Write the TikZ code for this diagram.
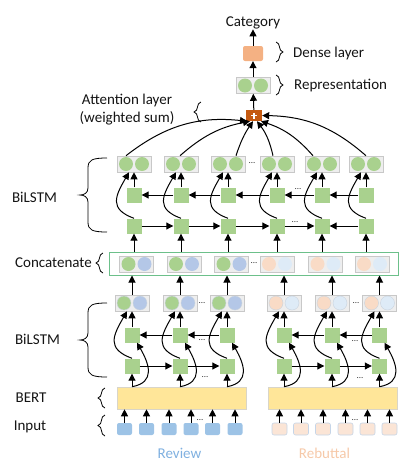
\documentclass[tikz,border=0pt]{standalone}
\usepackage{fontspec}
\setmainfont{Carlito}
\usetikzlibrary{arrows.meta,decorations.pathreplacing}

\definecolor{cellgreen}{HTML}{A9D18E}
\definecolor{dotblue}{HTML}{B4C7E7}
\definecolor{dotpeach}{HTML}{F9DBC6}
\definecolor{dotice}{HTML}{DEEBF7}
\definecolor{dotline}{HTML}{C9D3DE}
\definecolor{boxgray}{HTML}{EEEEEE}
\definecolor{boxline}{HTML}{C8C8C8}
\definecolor{densecol}{HTML}{F4B183}
\definecolor{attcol}{HTML}{C55A11}
\definecolor{bertcol}{HTML}{FFE699}
\definecolor{bertline}{HTML}{D9D5C8}
\definecolor{tokblue}{HTML}{9DC3E6}
\definecolor{tokpeach}{HTML}{FBE5D6}
\definecolor{tokline}{HTML}{C5D5E8}
\definecolor{concatgreen}{HTML}{6CC08A}
\definecolor{reviewcol}{HTML}{7FB0E0}
\definecolor{rebuttalcol}{HTML}{F6C9A9}

\tikzset{
  arr/.style={-{Triangle[length=7pt,width=7pt]}, line width=1pt},
  cell/.style={rectangle, fill=cellgreen, minimum size=15pt, inner sep=0pt},
  pairbox/.style={rectangle, fill=boxgray, draw=boxline, line width=0.6pt, minimum width=34pt, minimum height=16pt, inner sep=0pt},
  disc/.style={circle, minimum size=14pt, inner sep=0pt},
  token/.style={rectangle, rounded corners=2pt, minimum width=15pt, minimum height=12pt, inner sep=0pt},
  txt/.style={font=\fontsize{15}{18}\selectfont, text=black!92, inner sep=0pt},
  ellip/.style={font=\fontsize{9}{9}\selectfont, text=black!80, inner sep=0pt},
  lbrace/.style={decorate, decoration={brace, amplitude=7pt}, line width=0.8pt},
}

% big left brace: tip x, top y, bottom y
\newcommand{\sidebrace}[3]{%
  \draw[line width=0.8pt] ({#1+27},-#2) .. controls ({#1+12},-#2) and ({#1+8},{-#2-2}) .. ({#1+8},{-#2-10})
    -- ({#1+8},{-(#2+#3)/2+7}) .. controls ({#1+8},{-(#2+#3)/2+2}) and ({#1+4},{-(#2+#3)/2}) .. (#1,{-(#2+#3)/2})
    .. controls ({#1+4},{-(#2+#3)/2}) and ({#1+8},{-(#2+#3)/2-2}) .. ({#1+8},{-(#2+#3)/2-7})
    -- ({#1+8},{-#3+10}) .. controls ({#1+8},{-#3+2}) and ({#1+12},-#3) .. ({#1+27},-#3);
}

\begin{document}
\begin{tikzpicture}[x=1pt, y=1pt]
\useasboundingbox (0,0) rectangle (418,-464);

% top: attention, representation, dense
\node[rectangle, fill=attcol, minimum width=16pt, minimum height=11pt, inner sep=0pt] (att) at (254,-115.5) {};
\draw[white, line width=1.4pt] ([xshift=-3pt]att.center) -- ([xshift=3pt]att.center);
\draw[white, line width=1.4pt] ([yshift=-3pt]att.center) -- ([yshift=3pt]att.center);
\node[pairbox] (rep) at (253,-85.5) {};
\node[disc, fill=cellgreen] (repl) at ([xshift=-8pt]rep.center) {};
\node[disc, fill=cellgreen] (repr) at ([xshift=8pt]rep.center) {};
\node[rectangle, rounded corners=2pt, fill=densecol, minimum width=20pt, minimum height=15pt] (dense) at (253,-53.5) {};
\node[txt] (cat) at (253,-23) {Category};
\draw[arr] (dense) -- (cat);
\draw[arr] (rep) -- (dense);
\draw[arr] (att) -- (rep);

\node[txt, anchor=west] (denselbl) at (293,-53) {Dense layer};
\node[txt, anchor=west] (replbl) at (294,-86) {Representation};
\node[txt, align=center] (attlbl) at (127,-110) {Attention layer\\(weighted sum)};
\draw[lbrace] (276,-42) -- (276,-62);
\draw[lbrace] (276,-75) -- (276,-95);
\draw[lbrace] (201,-122) -- (201,-102);

% upper BiLSTM
\foreach \x [count=\i] in {134,181,228,277,322,366}{
  \node[pairbox] (to\i) at (\x,-164) {};
  \node[disc, fill=cellgreen] (to\i l) at ([xshift=-8pt]to\i.center) {};
  \node[disc, fill=cellgreen] (to\i r) at ([xshift=8pt]to\i.center) {};
  \node[cell] (tb\i) at (\x,-195) {};
  \node[cell] (tf\i) at (\x,-226) {};
  \draw[arr] (tb\i) -- (to\i);
  \draw[arr] (tf\i.north) to[out=160, in=240, looseness=1.5] ([xshift=-5pt]to\i.south);
}
\draw[arr] (tb2) -- (tb1);
\draw[arr] (tb3) -- (tb2);
\draw[arr] (tb4) -- (tb3);
\draw[arr] (tb5) -- (tb4);
\draw[arr] (tb6) -- (tb5);
\draw[arr] (tf1) -- (tf2);
\draw[arr] (tf2) -- (tf3);
\draw[arr] (tf3) -- (tf4);
\draw[arr] (tf4) -- (tf5);
\draw[arr] (tf6) -- (tf5);
\node[ellip] (td1) at (252,-163) {...};
\node[ellip] (td2) at (298,-189) {...};
\node[ellip] (td3) at (295,-222) {...};

% attention inputs
\draw[arr] ([xshift=-8pt]to1.north) to[bend left=22] ([xshift=-7pt]att.south);
\draw[arr] ([xshift=-1pt]to2.north) to[bend left=15] ([xshift=-4pt]att.south);
\draw[arr] ([xshift=8pt]to3.north) to[bend left=8] ([xshift=-1pt]att.south);
\draw[arr] ([xshift=-4pt]to4.north) to[bend right=12] ([xshift=3pt]att.south);
\draw[arr] ([xshift=-9pt]to5.north) to[bend right=15] ([xshift=7pt]att.south);
\draw[arr] (to6.north) to[bend right=20] (att.east);

% concatenate
\node[rectangle, draw=concatgreen, line width=1pt, fill=white, minimum width=289pt, minimum height=23pt] (concat) at (253.5,-263.5) {};
\foreach \x/\ca/\cb [count=\i] in {136.5/cellgreen/dotblue, 184/cellgreen/dotblue, 231.5/cellgreen/dotblue, 277/dotpeach/dotice, 325.5/dotpeach/dotice, 372/dotpeach/dotice}{
  \node[pairbox] (cc\i) at (\x,-264) {};
  \node[disc, fill=\ca] (cc\i l) at ([xshift=-8pt]cc\i.center) {};
  \node[disc, fill=\cb] (cc\i r) at ([xshift=8pt]cc\i.center) {};
  \draw[arr] (tf\i |- concat.north) -- (tf\i);
}
\node[ellip] (cd1) at (254,-263) {...};

% lower BiLSTM
\node[rectangle, fill=bertcol, draw=bertline, line width=0.6pt, minimum width=129pt, minimum height=22pt] (bertL) at (181.5,-398) {};
\node[rectangle, fill=bertcol, draw=bertline, line width=0.6pt, minimum width=129pt, minimum height=22pt] (bertR) at (332.5,-398) {};
\foreach \x/\ca/\cb [count=\i] in {132/cellgreen/dotblue, 180/cellgreen/dotblue, 227/cellgreen/dotblue, 284/dotpeach/dotice, 332/dotpeach/dotice, 379.5/dotpeach/dotice}{
  \node[pairbox] (lo\i) at (\x,-303) {};
  \node[disc, fill=\ca, draw=dotline, line width=0.4pt] (lo\i l) at ([xshift=-8pt]lo\i.center) {};
  \node[disc, fill=\cb, draw=dotline, line width=0.4pt] (lo\i r) at ([xshift=8pt]lo\i.center) {};
  \node[cell] (lb\i) at (\x,-335) {};
  \node[cell] (lf\i) at (\x,-366) {};
  \draw[arr] (lb\i) -- (lo\i);
  \draw[arr] (lo\i) -- (lo\i |- concat.south);
  \draw[arr] (lf\i.north) to[out=160, in=240, looseness=1.5] ([xshift=-5pt]lo\i.south);
  \draw[arr] (lf\i |- bertL.north) -- (lf\i);
  \draw[arr] (lf\i |- bertL.north) to[out=10, in=-60, looseness=1.4] ([xshift=5pt]lb\i.south);
}
\draw[arr] (lb2) -- (lb1);
\draw[arr] (lb3) -- (lb2);
\draw[arr] (lb5) -- (lb4);
\draw[arr] (lb6) -- (lb5);
\draw[arr] (lf1) -- (lf2);
\draw[arr] (lf2) -- (lf3);
\draw[arr] (lf4) -- (lf5);
\draw[arr] (lf5) -- (lf6);
\node[ellip] (ld1) at (202,-303) {...};
\node[ellip] (ld2) at (356,-303) {...};
\node[ellip] (ld3) at (202,-340) {...};
\node[ellip] (ld4) at (355,-341) {...};
\node[ellip] (ld5) at (205,-377) {...};
\node[ellip] (ld6) at (360,-378) {...};

% input tokens
\foreach \x [count=\i] in {124.5,146.5,169,191,212.5,235}{
  \node[token, fill=tokblue] (il\i) at (\x,-429) {};
  \draw[arr] (il\i) -- (il\i |- bertL.south);
}
\foreach \x [count=\i] in {279.5,301,323,345.5,367.5,389.5}{
  \node[token, fill=tokpeach, draw=tokline, line width=0.6pt] (ir\i) at (\x,-429) {};
  \draw[arr] (ir\i) -- (ir\i |- bertR.south);
}
\node[ellip] (id1) at (200,-420) {...};
\node[ellip] (id2) at (355,-420) {...};
\node[txt, text=reviewcol] (review) at (179.5,-453) {Review};
\node[txt, text=rebuttalcol] (rebuttal) at (324.5,-453) {Rebuttal};

% left labels
\node[txt] (bilstm1) at (34.5,-197) {BiLSTM};
\sidebrace{80}{158}{232}
\node[txt] (concatlbl) at (53.5,-263) {Concatenate};
\draw[lbrace] (103,-273) -- (103,-253);
\node[txt] (bilstm2) at (37.5,-339) {BiLSTM};
\sidebrace{80}{303}{377}
\node[txt] (bertlbl) at (31,-398) {BERT};
\draw[lbrace] (105,-408) -- (105,-388);
\node[txt] (inputlbl) at (30,-427) {Input};
\draw[lbrace] (105,-436) -- (105,-415);
\end{tikzpicture}
\end{document}
